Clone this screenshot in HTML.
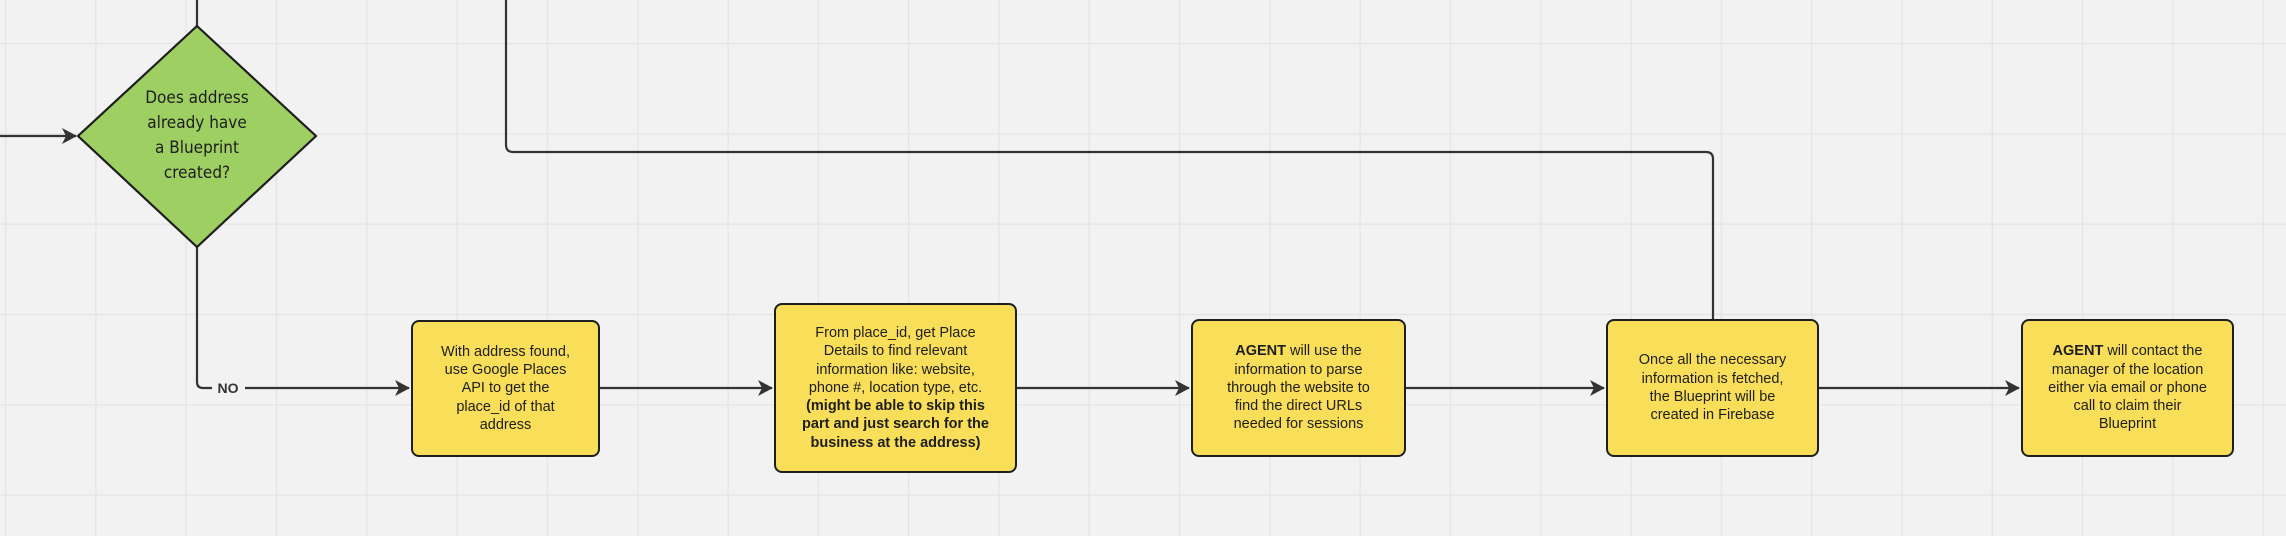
<!DOCTYPE html>
<html><head><meta charset="utf-8"><style>
html,body{margin:0;padding:0}
body{width:2286px;height:536px;overflow:hidden;background:#f2f2f2;position:relative;font-family:"Liberation Sans",Arial,sans-serif}
.box{position:absolute;box-sizing:border-box;background:#f9de59;border:2px solid #1e1e1e;border-radius:8px;display:flex;align-items:center;justify-content:center;text-align:center;font-size:14.5px;line-height:18.3px;color:#1e1e1e;white-space:nowrap}
.d{position:absolute;left:97px;top:86px;width:200px;text-align:center;font-size:17px;line-height:25px;color:#1e1e1e;font-family:"DejaVu Sans Condensed","Liberation Sans",sans-serif}
</style></head><body>
<svg width="2286" height="536" style="position:absolute;left:0;top:0">
<defs>
<pattern id="g" x="5" y="43" width="90.3" height="90.3" patternUnits="userSpaceOnUse">
<path d="M0 0V90.3M0 0H90.3" stroke="#e4e4e4" stroke-width="2.5" fill="none"/>
</pattern>
<marker id="a" markerWidth="16" markerHeight="16" refX="14" refY="8" orient="auto" markerUnits="userSpaceOnUse">
<path d="M0 0 L15 8 L0 16 L4 8 Z" fill="#333"/>
</marker>
</defs>
<rect width="2286" height="536" fill="url(#g)"/>
<g stroke="#333" stroke-width="2.2" fill="none">
<path d="M197 0V26"/>
<path d="M0 136H76" marker-end="url(#a)"/>
<path d="M197 247V382Q197 388 203 388H212"/>
<path d="M245 388H409" marker-end="url(#a)"/>
<path d="M600 388H772" marker-end="url(#a)"/>
<path d="M1017 388H1189" marker-end="url(#a)"/>
<path d="M1406 388H1604" marker-end="url(#a)"/>
<path d="M1819 388H2019" marker-end="url(#a)"/>
<path d="M506 0V145Q506 152 513 152H1706Q1713 152 1713 159V319"/>
</g>
<polygon points="197,26 316,136 197,247 78,136" fill="#9ecf62" stroke="#1e1e1e" stroke-width="2.2"/>
<text x="228" y="393" font-family="Liberation Sans" font-weight="bold" font-size="14" fill="#333" text-anchor="middle">NO</text>
</svg>
<div class="d">Does address<br>already have<br>a Blueprint<br>created?</div>
<div class="box" style="left:411px;top:320px;width:189px;height:137px"><span>With address found,<br>use Google Places<br>API to get the<br>place_id of that<br>address</span></div>
<div class="box" style="left:774px;top:303px;width:243px;height:170px"><span>From place_id, get Place<br>Details to find relevant<br>information like: website,<br>phone #, location type, etc.<br><b>(might be able to skip this<br>part and just search for the<br>business at the address)</b></span></div>
<div class="box" style="left:1191px;top:319px;width:215px;height:138px"><span><b>AGENT</b> will use the<br>information to parse<br>through the website to<br>find the direct URLs<br>needed for sessions</span></div>
<div class="box" style="left:1606px;top:319px;width:213px;height:138px"><span>Once all the necessary<br>information is fetched,<br>the Blueprint will be<br>created in Firebase</span></div>
<div class="box" style="left:2021px;top:319px;width:213px;height:138px"><span><b>AGENT</b> will contact the<br>manager of the location<br>either via email or phone<br>call to claim their<br>Blueprint</span></div>
</body></html>
